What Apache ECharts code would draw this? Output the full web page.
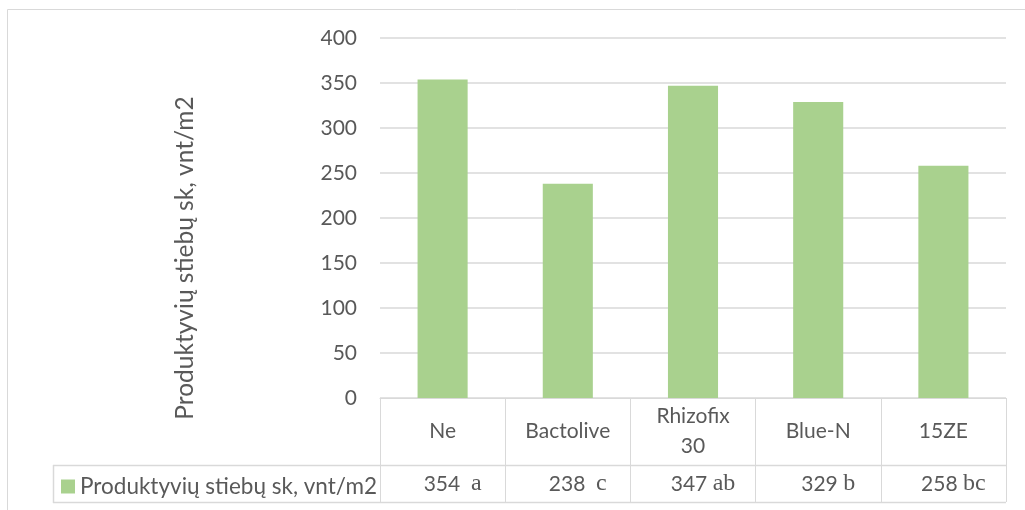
<!DOCTYPE html>
<html>
<head>
<meta charset="utf-8">
<script src="https://cdn.jsdelivr.net/npm/echarts@6/dist/echarts.min.js"></script>
<style>
  html, body { margin: 0; padding: 0; background: #fff; }
  #chart { width: 1025px; height: 510px; }
</style>
</head>
<body>
<div id="chart"></div>
<script>
// data
const categories = ['Ne', 'Bactolive', 'Rhizofix\n30', 'Blue-N', '15ZE']
const values = [354, 238, 347, 329, 258]
const letters = ['a', 'c', 'ab', 'b', 'bc']
const letterGaps = ['  ', '  ', ' ', ' ', ' ']
const seriesName = 'Produktyvių stiebų sk, vnt/m2'
const yTicks = { min: 0, max: 400, interval: 50 }

const textColor = '#595959'
const lineColor = '#d9d9d9'
const font = 'Lato'

const chart = echarts.init(document.getElementById('chart'))

const option = {
  animation: false,
  textStyle: { fontFamily: font, color: textColor },
  grid: { left: 380, right: 19, top: 38, bottom: 112 },
  legend: {
    data: [seriesName],
    left: 61,
    top: 475,
    padding: 0,
    icon: 'rect',
    itemWidth: 14,
    itemHeight: 14,
    itemGap: 5,
    textStyle: { fontFamily: font, fontSize: 22.5, color: textColor }
  },
  xAxis: [
    {
      type: 'category',
      data: categories,
      position: 'bottom',
      axisLine: { lineStyle: { color: lineColor, width: 1 } },
      axisTick: { show: true, length: 104, lineStyle: { color: lineColor, width: 1 } },
      axisLabel: {
        interval: 0,
        margin: 33,
        verticalAlign: 'middle',
        lineHeight: 30,
        fontFamily: font,
        fontSize: 21,
        color: textColor
      }
    },
    {
      type: 'category',
      data: categories.map((c, i) => values[i]),
      position: 'bottom',
      axisLine: { show: false },
      axisTick: { show: false },
      axisLabel: {
        interval: 0,
        margin: 86,
        verticalAlign: 'middle',
        formatter: (v, i) => '{p|}{n|' + values[i] + '}{n|' + letterGaps[i] + '}{l|' + letters[i] + '}',
        rich: {
          p: { width: 20 },
          n: { fontFamily: font, fontSize: 21, color: textColor },
          l: { fontFamily: 'Liberation Serif', fontSize: 24, color: textColor }
        }
      }
    }
  ],
  yAxis: {
    type: 'value',
    min: yTicks.min,
    max: yTicks.max,
    interval: yTicks.interval,
    axisLine: { show: false },
    axisTick: { show: false },
    splitLine: { lineStyle: { color: lineColor, width: 1.5 } },
    axisLabel: { margin: 23, fontFamily: font, fontSize: 21, color: textColor }
  },
  graphic: [
    // chart frame
    { type: 'rect', shape: { x: 7.5, y: 9.5, width: 1040, height: 520 }, style: { fill: 'none', stroke: lineColor, lineWidth: 1 }, silent: true },
    // data table rows
    { type: 'line', shape: { x1: 53, y1: 465.5, x2: 1006, y2: 465.5 }, style: { stroke: lineColor, lineWidth: 1.5 } },
    { type: 'line', shape: { x1: 53, y1: 502.5, x2: 1006, y2: 502.5 }, style: { stroke: lineColor, lineWidth: 1.5 } },
    { type: 'line', shape: { x1: 53.5, y1: 465, x2: 53.5, y2: 503 }, style: { stroke: lineColor, lineWidth: 1.5 } },
    // y axis title
    {
      type: 'text',
      x: 185,
      y: 258,
      rotation: Math.PI / 2,
      style: {
        text: seriesName,
        fontFamily: font,
        fontSize: 24.5,
        fill: textColor,
        align: 'center',
        verticalAlign: 'middle'
      }
    }
  ],
  series: [
    {
      name: seriesName,
      type: 'bar',
      data: values,
      barWidth: '40%',
      itemStyle: { color: '#a9d18e' }
    }
  ]
}

chart.setOption(option)
</script>
</body>
</html>
